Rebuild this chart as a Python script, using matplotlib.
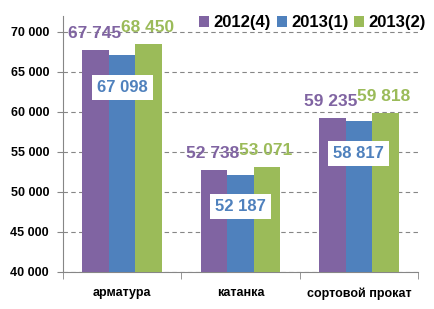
import matplotlib
matplotlib.use("Agg")
import matplotlib.pyplot as plt
import numpy as np
from matplotlib.ticker import FuncFormatter, MultipleLocator

categories = ["арматура", "катанка", "сортовой прокат"]
series_names = ["2012(4)", "2013(1)", "2013(2)"]
v2012_4 = [67745, 52738, 59235]
v2013_1 = [67098, 52187, 58817]
v2013_2 = [68450, 53071, 59818]
colors = ["#8064A2", "#4F81BD", "#9BBB59"]

plt.rcParams['font.family'] = ['Liberation Sans', 'DejaVu Sans']
plt.rcParams['font.weight'] = 'bold'


def fmt(v):
    return f"{int(v):,}".replace(",", " ")


fig = plt.figure(figsize=(4.34, 3.09), dpi=100)
ax = fig.add_axes([63 / 434, 37 / 309, (418 - 63) / 434, (272 - 16) / 309])

x = np.arange(len(categories))
w = 0.225
all_vals = [v2012_4, v2013_1, v2013_2]
for i, vals in enumerate(all_vals):
    ax.bar(x + (i - 1) * w, vals, width=w, color=colors[i], label=series_names[i], zorder=3)

# data labels: middle series sits in a white box inside the bars
for i, vals in enumerate(all_vals):
    for j, v in enumerate(vals):
        xpos = x[j] + (i - 1) * w
        if i == 1:
            ax.annotate(fmt(v), (xpos, v), xytext=(0, -23), textcoords='offset points',
                        ha='center', va='center', fontsize=12, fontweight='bold', color=colors[i],
                        bbox=dict(boxstyle='square,pad=0.3', fc='white', ec='none'), zorder=5)
        else:
            ax.annotate(fmt(v), (xpos, v), xytext=(-1, 12), textcoords='offset points',
                        ha='center', va='center', fontsize=12.5, fontweight='bold', color=colors[i],
                        zorder=5)

ax.set_ylim(40000, 72000)
ax.set_xlim(-0.5, 2.5)
ax.yaxis.set_major_locator(MultipleLocator(5000))
ax.yaxis.set_major_formatter(FuncFormatter(lambda v, p: fmt(v) if v <= 70000 else ""))
ax.grid(axis='y', linestyle=(0, (4, 3)), color='#868686', linewidth=0.8, zorder=0)

ax.set_xticks(x)
ax.set_xticklabels(categories)
ax.set_xticks([-0.5, 0.5, 1.5, 2.5], minor=True)
ax.tick_params(axis='x', which='major', length=0, pad=11, labelsize=9)
ax.tick_params(axis='x', which='minor', length=5, color='#868686')
ax.tick_params(axis='y', length=4, pad=6, labelsize=9, color='#868686')

for s in ['top', 'right']:
    ax.spines[s].set_visible(False)
for s in ['left', 'bottom']:
    ax.spines[s].set_color('#868686')

fig.legend(loc='center right', bbox_to_anchor=(1.0, 1 - 23 / 309), ncol=3, frameon=False,
           prop={'size': 12, 'weight': 'bold'}, handlelength=0.6, handleheight=0.6,
           handletextpad=0.25, columnspacing=0.35, borderaxespad=0.1)

fig.savefig("out.png", dpi=100)
